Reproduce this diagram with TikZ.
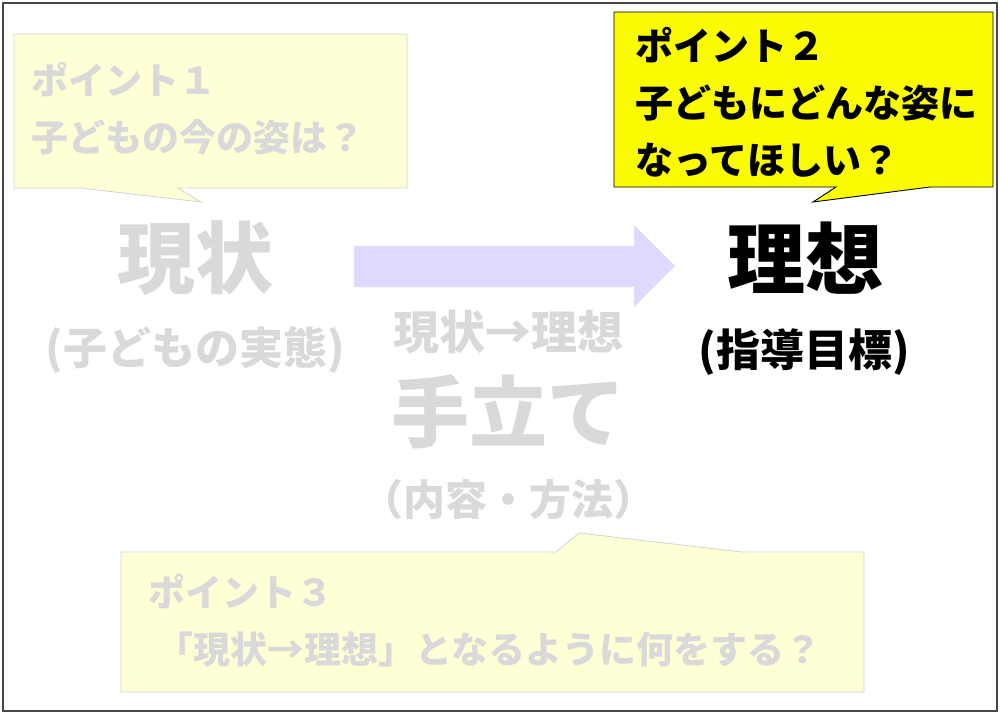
\documentclass[tikz,border=0pt]{standalone}
\usepackage{fontspec}
\setmainfont{Noto Sans CJK JP}
\definecolor{paleyel}{RGB}{255,255,214}
\definecolor{palegray}{RGB}{217,217,217}
\definecolor{boxgray}{RGB}{210,210,210}
\definecolor{lav}{RGB}{222,218,255}
\definecolor{brightyel}{RGB}{250,250,0}
\tikzset{
  pale/.style={text=palegray, font=\bfseries\fontsize{37}{40}\selectfont, inner sep=0pt},
  blk/.style={text=black, font=\bfseries\fontsize{38}{40}\selectfont, inner sep=0pt},
  bigtxt/.style={font=\bfseries\fontsize{78}{80}\selectfont, inner sep=0pt},
  midtxt/.style={font=\bfseries\fontsize{44}{46}\selectfont, inner sep=0pt},
}
\begin{document}
\begin{tikzpicture}[x=1pt,y=-1pt]
\useasboundingbox (0,0) rectangle (1000,715);
\draw[line width=1.2pt, color={rgb,255:red,70;green,70;blue,70}] (3,3) rectangle (997,711);

% callout 1
\draw[fill=paleyel, draw=boxgray, line width=0.8pt]
  (14,34) -- (407,34) -- (407,188) -- (178,188) -- (201,202) -- (80,188) -- (14,188) -- cycle;
\node[pale, anchor=west] (p1a) at (31,80) {ポイント１};
\node[pale, anchor=west] (p1b) at (31,137) {子どもの今の姿は？};

% callout 2
\draw[fill=brightyel, draw=black, line width=0.9pt]
  (614,12) -- (993,12) -- (993,187) -- (930,187) -- (813,202) -- (836,187) -- (614,187) -- cycle;
\node[blk, anchor=west] (p2a) at (635,45) {ポイント２};
\node[blk, anchor=west] (p2b) at (635,103) {子どもにどんな姿に};
\node[blk, anchor=west] (p2c) at (635,160) {なってほしい？};

% callout 3
\draw[fill=paleyel, draw=boxgray, line width=0.8pt]
  (121,552) -- (556,552) -- (579,533) -- (742,552) -- (864,552) -- (864,692) -- (121,692) -- cycle;
\node[pale, anchor=west, font=\bfseries\fontsize{37}{40}\selectfont] (p3a) at (148,592) {ポイント３};
\node[pale, anchor=west, font=\bfseries\fontsize{37}{40}\selectfont] (p3b) at (156,650) {「現状→理想」となるように何をする？};

% big arrow
\fill[lav] (354,246) -- (634,246) -- (634,225) -- (675,266) -- (634,307) -- (634,287) -- (354,287) -- cycle;

% main texts
\node[bigtxt, text=palegray] (gen) at (195,258) {現状};
\node[midtxt, text=palegray] (genb) at (195,350) {(子どもの実態)};
\node[bigtxt, text=black] (ri) at (805,258) {理想};
\node[midtxt, text=black] (rib) at (804,352) {(指導目標)};
\node[midtxt, text=palegray, font=\bfseries\fontsize{46}{48}\selectfont] (te0) at (508,332) {現状→理想};
\node[bigtxt, text=palegray] (te) at (508,412) {手立て};
\node[midtxt, text=palegray, font=\bfseries\fontsize{42}{44}\selectfont] (te2) at (508,500) {（内容・方法）};
\end{tikzpicture}
\end{document}
